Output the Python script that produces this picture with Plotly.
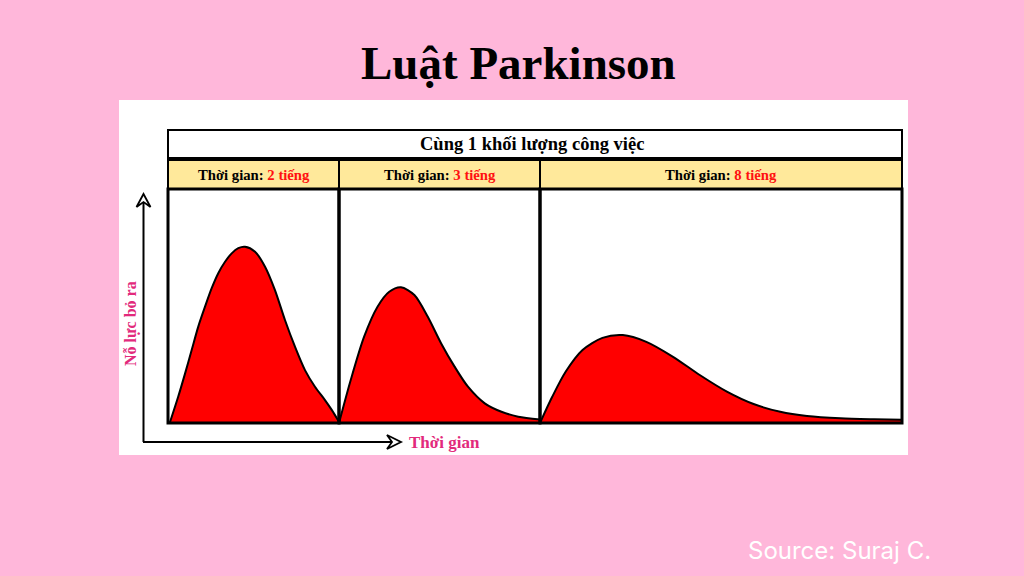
import plotly.graph_objects as go

W, H = 1024, 576

# effort curves (x = hours, y = effort 0..100)
hours_2 = [0.02, 0.12, 0.2, 0.277, 0.354, 0.433, 0.511, 0.588, 0.667, 0.745, 0.822, 0.9,
           1.018, 1.135, 1.251, 1.368, 1.485, 1.602, 1.719, 1.836, 1.915, 2.0]
effort_2 = [0, 11.3, 21.2, 31.2, 41.2, 49.7, 57.6, 64.0, 68.9, 72.5, 74.7, 75.3,
            73.2, 66.8, 56.8, 44.0, 32.6, 22.6, 15.5, 9.8, 5.6, 0.5]

hours_3 = [0, 0.175, 0.375, 0.575, 0.75, 0.925, 1.125, 1.325, 1.525, 1.725, 1.925, 2.175, 2.425, 2.675, 3.0]
effort_3 = [0, 18.4, 36.9, 49.7, 56.1, 58, 54.7, 45.4, 34, 24.1, 15.5, 8.4, 4.8, 2.7, 1.5]

hours_8 = [0, 0.27, 0.57, 0.94, 1.38, 1.83, 2.35, 2.94, 3.53, 4.13, 4.72, 5.31, 5.9, 6.64, 7.38, 8.0]
effort_8 = [0, 11.2, 22, 31.2, 36.4, 37.6, 34.7, 28.3, 20.5, 13.4, 8.1, 4.8, 3.0, 2.0, 1.6, 1.4]

durations = [2, 3, 8]
panel_labels = ["2 tiếng", "3 tiếng", "8 tiếng"]

title = "Luật Parkinson"
header = "Cùng 1 khối lượng công việc"
x_label = "Thời gian"
y_label = "Nỗ lực bỏ ra"
source = "Source: Suraj C."

PINK = "#FFB7DA"
YELLOW = "#FFE99B"
SERIF = "Liberation Serif, Times New Roman, serif"


def px(x):
    return x / W


def py(y):
    return 1 - y / H


# panel edges in pixels
edges = [168, 339, 540, 902]
top, bottom = 189, 423

fig = go.Figure()
series = [(hours_2, effort_2), (hours_3, effort_3), (hours_8, effort_8)]
for i, (xs, ys) in enumerate(series):
    n = "" if i == 0 else str(i + 1)
    fig.add_trace(go.Scatter(
        x=xs, y=ys, xaxis="x" + n, yaxis="y" + n,
        mode="lines", line=dict(color="black", width=2, shape="spline", smoothing=0.8),
        fill="tozeroy", fillcolor="#FF0000", hoverinfo="skip", showlegend=False,
    ))
    common = dict(showline=False, showgrid=False, zeroline=False,
                  showticklabels=False, ticks="", fixedrange=True)
    fig.layout["xaxis" + n] = dict(domain=[px(edges[i]), px(edges[i + 1])],
                                   range=[0, durations[i]], anchor="y" + n, **common)
    fig.layout["yaxis" + n] = dict(domain=[py(bottom), py(top)], range=[0, 100],
                                   anchor="x" + n, **common)

shapes = [
    # white picture card
    dict(type="rect", xref="paper", yref="paper", x0=px(119), x1=px(908),
         y0=py(455), y1=py(100), fillcolor="white", line=dict(width=0), layer="below"),
    # header box
    dict(type="rect", xref="paper", yref="paper", x0=px(168), x1=px(902),
         y0=py(158), y1=py(130), fillcolor="white", line=dict(color="black", width=2)),
    # y axis arrow
    dict(type="line", xref="paper", yref="paper", x0=px(143.5), x1=px(143.5),
         y0=py(442), y1=py(195), line=dict(color="black", width=2)),
    dict(type="path", xref="paper", yref="paper",
         path=f"M{px(136.5)},{py(207)} L{px(143.5)},{py(194)} L{px(150.5)},{py(207)} L{px(143.5)},{py(202)} Z",
         fillcolor="white", line=dict(color="black", width=1.8)),
    # x axis arrow
    dict(type="line", xref="paper", yref="paper", x0=px(143), x1=px(396),
         y0=py(442), y1=py(442), line=dict(color="black", width=2)),
    dict(type="path", xref="paper", yref="paper",
         path=f"M{px(387)},{py(435)} L{px(401)},{py(442)} L{px(387)},{py(449)} L{px(392)},{py(442)} Z",
         fillcolor="white", line=dict(color="black", width=1.8)),
]


def note(text, x, y, size, color="black", family=SERIF, **kw):
    d = dict(text=text, x=px(x), y=py(y), xref="paper", yref="paper",
             xanchor="center", yanchor="middle", showarrow=False,
             font=dict(family=family, size=size, color=color))
    d.update(kw)
    return d


annotations = [
    note(f"<b>{title}</b>", 518, 63, 47),
    note(f"<b>{header}</b>", 532, 144, 18.5),
    note(f"<b>{x_label}</b>", 407, 442, 17, color="#E22A7C", xanchor="left"),
    note(f"<b>{y_label}</b>", 131, 324, 16, color="#E22A7C", textangle=-90),
    note(source, 839, 550, 24, color="white", family="Inter, Open Sans, sans-serif"),
]

for i, lab in enumerate(panel_labels):
    # yellow label cell and panel frame
    shapes.append(dict(type="rect", xref="paper", yref="paper",
                       x0=px(edges[i]), x1=px(edges[i + 1]), y0=py(189), y1=py(160),
                       fillcolor=YELLOW, line=dict(color="black", width=2)))
    shapes.append(dict(type="rect", xref="paper", yref="paper",
                       x0=px(edges[i]), x1=px(edges[i + 1]), y0=py(bottom), y1=py(top),
                       line=dict(color="black", width=3)))
    annotations.append(note(
        f"<b>Thời gian: <span style='color:#FF1010'>{lab}</span></b>",
        (edges[i] + edges[i + 1]) / 2, 175, 14.7))

fig.update_layout(
    width=W, height=H, margin=dict(l=0, r=0, t=0, b=0),
    paper_bgcolor=PINK, plot_bgcolor="white",
    shapes=shapes, annotations=annotations, showlegend=False,
)

fig.write_html("out.html", config={"displayModeBar": False},
               post_script="document.body.style.margin='0';document.body.style.overflow='hidden';")
